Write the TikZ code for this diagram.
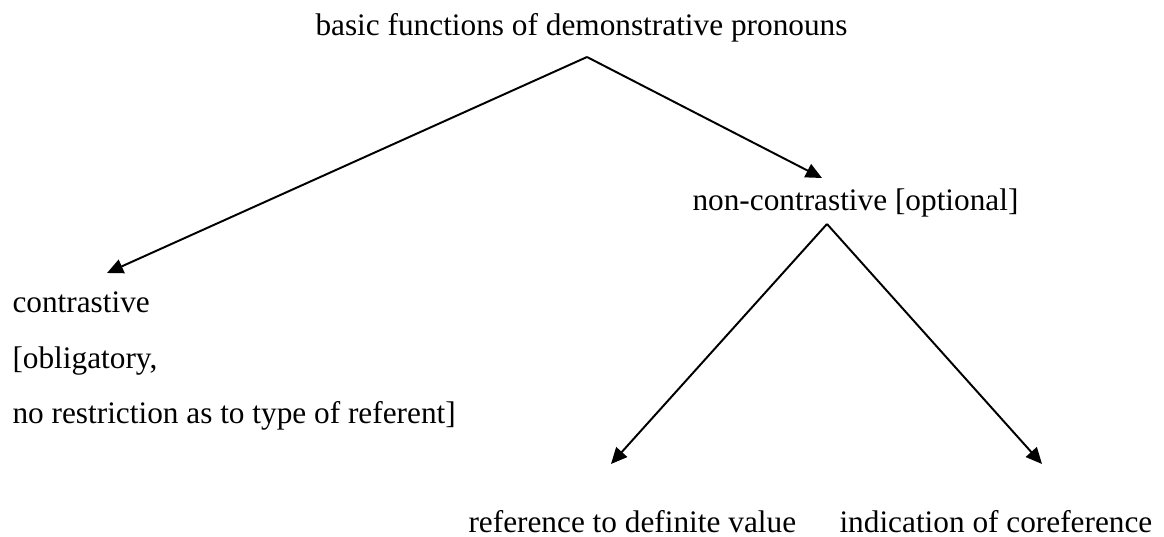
\documentclass[tikz,border=0pt]{standalone}
\usepackage{fontspec}
\setmainfont{Liberation Serif}
\usetikzlibrary{arrows.meta}
\begin{document}
\begin{tikzpicture}[x=0.3834pt, y=-0.3834pt, font=\fontsize{12}{14}\selectfont,
    nodes={inner sep=0pt, anchor=base west},
    branch/.style={line width=0.75pt, -{Triangle[length=6.2pt, width=5.6pt]}}]
    \useasboundingbox (0,0) rectangle (1164,536);
    % Labels
    \node (basic) at (315,35) {basic functions of demonstrative pronouns};
    \node (contr) at (12,312) {contrastive};
    \node (oblig) at (12,368) {[obligatory,};
    \node (restr) at (12,423) {no restriction as to type of referent]};
    \node (noncontr) at (692,210) {non-contrastive [optional]};
    \node (defval) at (468,532) {reference to definite value};
    \node (coref) at (839,532) {indication of coreference};
    % Branching points and arrow tips
    \coordinate (top) at (587,57);
    \coordinate (mid) at (827,224);
    \coordinate (tipcontr) at (107,273);
    \coordinate (tipnon) at (822,178);
    \coordinate (tipdef) at (611,464);
    \coordinate (tipcoref) at (1042,464);
    % Tree structure
    \draw[branch] (top) -- (tipcontr);
    \draw[branch] (top) -- (tipnon);
    \draw[branch] (mid) -- (tipdef);
    \draw[branch] (mid) -- (tipcoref);
\end{tikzpicture}
\end{document}
